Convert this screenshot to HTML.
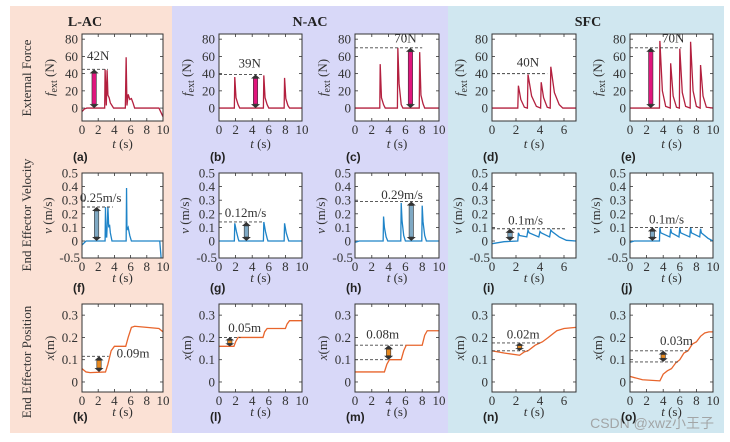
<!DOCTYPE html>
<html><head><meta charset="utf-8">
<style>
html,body{margin:0;padding:0;background:#fff;}
svg{display:block;font-family:"Liberation Serif",serif;}
.tick{font-size:13px;fill:#333;}
.lab{font-size:13px;fill:#333;}
.pl{font-family:"Liberation Sans",sans-serif;font-weight:bold;font-size:12px;fill:#222;}
</style></head>
<body>
<svg id="fig" width="730" height="442" viewBox="0 0 730 442">
  <rect x="10" y="6" width="162" height="427" fill="#fbe1d5"/>
  <rect x="172" y="6" width="276" height="427" fill="#d8d8f8"/>
  <rect x="448" y="6" width="276" height="427" fill="#d0e7f0"/>
  <text x="85" y="26" text-anchor="middle" font-weight="bold" font-size="14" fill="#222">L-AC</text>
  <text x="310" y="26" text-anchor="middle" font-weight="bold" font-size="14" fill="#222">N-AC</text>
  <text x="588" y="26" text-anchor="middle" font-weight="bold" font-size="14" fill="#222">SFC</text>
  <text transform="translate(31,78) rotate(-90)" text-anchor="middle" class="lab" font-size="14">External Force</text>
  <text transform="translate(31,215) rotate(-90)" text-anchor="middle" class="lab" font-size="14">End Effector Velocity</text>
  <text transform="translate(31,362) rotate(-90)" text-anchor="middle" class="lab" font-size="14">End Effector Position</text>
  <text x="714" y="428" text-anchor="end" font-family="Liberation Sans, WenQuanYi Zen Hei, sans-serif" font-size="14" fill="#9a9a9a" opacity="0.85">CSDN @xwz小王子</text>
</svg>
<script>
// ---- data ----
const aT=[0,0.3,0.6,2.7,2.8,2.85,3.0,3.1,3.2,3.35,3.5,3.7,3.9,5.35,5.45,5.55,5.7,5.9,6.1,6.3,6.5,9.5,10];
const aF=[-4,-1,0,0,0,45,3,44,15,12,6,3,0,0,59,3,16,10,11,6,0,0,-10];
const bT=[0,1.85,1.9,2.05,2.3,2.5,5.35,5.4,5.55,5.8,6.0,7.85,7.9,8.05,8.3,8.5,10];
const bF=[0,0,36,12,4,0,0,38,12,4,0,0,35,11,3,0,0];
const cT=[0,2.95,3.0,3.15,3.4,3.6,5.05,5.1,5.25,5.5,5.7,7.65,7.7,7.85,8.1,8.3,10];
const cF=[0,0,51,12,4,0,0,70,28,4,0,0,65,15,5,0,0];
const dT=[0,2.15,2.2,2.4,2.7,2.95,3.0,3.3,3.7,4.05,4.1,4.3,4.6,4.85,4.9,5.2,5.6,5.9,7];
const dF=[0,0,26,10,1,0,39,14,2,0,30,12,1,0,48,18,4,0,0];
const eT=[0,3.55,3.6,3.9,4.3,4.85,4.9,5.2,5.6,5.95,6.0,6.3,6.7,7.25,7.3,7.6,8.0,8.45,8.5,8.8,9.2,10];
const eF=[0,0,78,20,2,0,52,14,1,0,69,18,2,0,77,20,2,0,50,14,1,0];
const fT=[0,0.5,0.7,2.85,2.9,2.95,3.05,3.2,3.3,3.4,3.5,3.7,5.45,5.5,5.55,5.7,5.9,6.1,9.6,10];
const fV=[-0.03,0,0,0,0.25,0.03,0.03,0.25,0.1,0.12,0.06,0,0,0.39,0.08,0.1,0.04,0,0,-0.3];
const gT=[0,1.85,1.9,2.1,2.3,2.4,5.35,5.4,5.6,5.8,5.9,7.85,7.9,8.1,8.3,8.4,10];
const gV=[0,0,0.13,0.07,0.02,0,0,0.14,0.07,0.02,0,0,0.13,0.06,0.02,0,0];
const hT=[0,0.5,3.35,3.4,3.5,3.7,3.9,5.45,5.5,5.6,5.8,6.0,7.95,8.0,8.1,8.3,8.5,10];
const hV=[-0.01,0,0,0.18,0.1,0.03,0,0,0.28,0.15,0.04,0,0,0.26,0.14,0.04,0,0];
const iT=[0,1,2.15,2.2,2.3,2.9,3.0,3.1,3.9,4.0,4.1,4.8,4.9,5.0,5.6,6.2,7];
const iV=[-0.02,-0.005,0,0.06,0.04,0.03,0.08,0.06,0.03,0.07,0.06,0.03,0.08,0.07,0.03,0.005,0];
const jT=[0,0.5,3.55,3.6,3.7,4.8,4.9,5.0,5.9,6.0,6.1,7.2,7.3,7.4,8.4,8.5,8.6,9.4,10];
const jV=[-0.01,0,0,0.1,0.06,0.03,0.09,0.06,0.03,0.1,0.06,0.03,0.1,0.06,0.03,0.09,0.06,0.02,0];
const kT=[0,0.5,1,2.9,3.2,3.6,4,5.4,5.7,6.1,6.5,9.5,10];
const kX=[0.06,0.045,0.042,0.045,0.08,0.14,0.16,0.16,0.2,0.245,0.25,0.24,0.225];
const lT=[0,1.8,2.0,2.3,5.3,5.5,5.8,8.0,8.2,8.5,10];
const lX=[0.16,0.16,0.18,0.2,0.2,0.225,0.24,0.24,0.26,0.275,0.275];
const mT=[0,3.5,3.8,4.1,5.5,5.8,6.1,8.0,8.3,8.6,10];
const mX=[0.045,0.045,0.08,0.1,0.1,0.14,0.165,0.165,0.21,0.23,0.23];
const nT=[0,1,2.3,2.7,3.0,3.6,4.2,4.7,5.4,6.0,7];
const nX=[0.14,0.13,0.12,0.135,0.14,0.165,0.18,0.2,0.23,0.24,0.245];
const oT=[0,1.5,3.6,4.0,4.5,5.0,5.5,6.0,6.5,7.0,7.5,8.0,8.5,9.0,9.5,10];
const oX=[0.025,0.01,0.005,0.035,0.05,0.06,0.085,0.1,0.13,0.14,0.17,0.18,0.205,0.22,0.225,0.225];
const xTicks10=[0,2,4,6,8,10];
const xTicks7=[0,2,4,6];
const forceTicks=[0,20,40,60,80];
const velTicks=[0,0.1,0.2,0.3,0.4,0.5];
const velTickLabels=["0","0.1","0.2","0.3","0.4","0.5"];
const posTicks=[0,0.1,0.2,0.3];
const posTickLabels=["0","0.1","0.2","0.3"];
// annotations: [level(s), dash end t, label, label t, label y, arrow t, arrow from, arrow to]
const annA=[[45],3.2,"42N",2.0,56,1.5,0,45];
const annB=[[39],5.4,"39N",3.7,47,4.4,0,39];
const annC=[[70],8.0,"70N",6.0,76,6.6,0,70];
const annD=[[40],4.6,"40N",3.0,48,null,0,0];
const annE=[[70],6.2,"70N",5.2,76,2.5,0,70];
const annF=[[0.25],3.8,"0.25m/s",2.3,0.285,1.8,0,0.25];
const annG=[[0.14],5.4,"0.12m/s",3.2,0.175,3.3,0,0.14];
const annH=[[0.29],8.2,"0.29m/s",5.6,0.31,6.7,0,0.29];
const annI=[[0.09],6.1,"0.1m/s",2.8,0.12,1.5,0,0.09];
const annJ=[[0.1],9.0,"0.1m/s",4.4,0.13,2.7,0,0.1];
const annK=[[0.115],3.3,"0.09m",6.3,0.11,2.1,0.045,0.115];
const annL=[[0.2],2.6,"0.05m",3.1,0.225,1.3,0.16,0.2];
const annM=[[0.1,0.165],[4.1,6.0],"0.08m",3.3,0.195,4.0,0.1,0.165];
const annN=[[0.14,0.175],[3.0,4.1],"0.02m",2.6,0.195,2.3,0.14,0.175];
const annO=[[0.09,0.14],[6.0,7.0],"0.03m",5.6,0.165,4.0,0.09,0.14];

const NS="http://www.w3.org/2000/svg";
const svg=document.getElementById('fig');
function mk(tag,attrs,parent){const e=document.createElementNS(NS,tag);for(const k in attrs)e.setAttribute(k,attrs[k]);(parent||svg).appendChild(e);return e;}

const cols=[[82,81],[219,83],[355,84],[492,84],[630,83]];
const rows={force:[34,121,-15,86],vel:[173,258,-0.125,0.5],pos:[304,392,-0.045,0.35]};
const colors={force:"#b3203f",vel:"#1f84c8",pos:"#e8652c"};
const arrowFill={force:"#e0157d",vel:"#7fa9c4",pos:"#e88a20"};

function panel(id,ci,row,xmax,T,V,ann,letter){
  const [L,W]=cols[ci];const [top,bot,ymin,ymax]=rows[row];
  const xs=t=>L+t/xmax*W;
  const ys=v=>bot-(v-ymin)/(ymax-ymin)*(bot-top);
  const g=mk('g',{});
  
  
  const bg=mk('rect',{x:L,y:top,width:W,height:bot-top,fill:'#fff'},g);
  
  
  const cp=mk('clipPath',{id:'clip'+id},g);
  mk('rect',{x:L,y:top,width:W,height:bot-top},cp);
  const xt=xmax===10?xTicks10:xTicks7;
  xt.forEach(t=>{
    mk('line',{x1:xs(t),x2:xs(t),y1:bot,y2:bot-3,stroke:'#333','stroke-width':0.8},g);
    mk('line',{x1:xs(t),x2:xs(t),y1:top,y2:top+3,stroke:'#333','stroke-width':0.8},g);
    const tl=mk('text',{x:xs(t),y:bot+13,'text-anchor':'middle',class:'tick'},g);
    tl.textContent=t;
    
    
  });
  let yt,yl;
  if(row==='force'){yt=forceTicks;yl=forceTicks.map(String);}
  else if(row==='vel'){yt=velTicks;yl=velTickLabels;}
  else {yt=posTicks;yl=posTickLabels;}
  yt.forEach((v,i)=>{
    mk('line',{x1:L,x2:L+3,y1:ys(v),y2:ys(v),stroke:'#333','stroke-width':0.8},g);
    mk('line',{x1:L+W,x2:L+W-3,y1:ys(v),y2:ys(v),stroke:'#333','stroke-width':0.8},g);
    const tl=mk('text',{x:L-4,y:ys(v)+4.5,'text-anchor':'end',class:'tick'},g);
    tl.textContent=yl[i];
    
    
  });
  if(row==='vel'){
    const tl=mk('text',{x:L-2,y:bot+4,'text-anchor':'end',class:'tick'},g);
    tl.textContent="-0.5";
    
    
  }
  const d=T.map((t,i)=>(i?'L':'M')+xs(t).toFixed(2)+','+ys(V[i]).toFixed(2)).join('');
  const p=mk('path',{d:d,fill:'none',stroke:colors[row],'stroke-width':1.3,'clip-path':'url(#clip'+id+')'},g);
  
  
  const levels=ann[0];const ends=Array.isArray(ann[1])?ann[1]:[ann[1]];
  levels.forEach((lv,i)=>{
    const dl=mk('line',{x1:L,x2:xs(ends[i]),y1:ys(lv),y2:ys(lv),stroke:'#444','stroke-width':0.9,'stroke-dasharray':'3,2'},g);
    
    
  });
  const at=mk('text',{x:xs(ann[3]),y:ys(ann[4]),'text-anchor':'middle',class:'lab',
    'font-size':row==='force'?13:12},g);
  at.textContent=ann[2];
  
  
  if(ann[5]!==null){
    const ax=xs(ann[5]),y1=ys(ann[6]),y2=ys(ann[7]);
    const ag=mk('g',{},g);
    
    
    const h=Math.min(4,(y1-y2)/3);
    mk('rect',{x:ax-2.2,y:y2+h,width:4.4,height:Math.max(0,y1-y2-2*h),fill:arrowFill[row],stroke:'#333','stroke-width':0.6},ag);
    mk('polygon',{points:`${ax-4.5},${y2+h} ${ax+4.5},${y2+h} ${ax},${y2}`,fill:'#333'},ag);
    mk('polygon',{points:`${ax-4.5},${y1-h} ${ax+4.5},${y1-h} ${ax},${y1}`,fill:'#333'},ag);
  }
  const fr=mk('rect',{x:L,y:top,width:W,height:bot-top,fill:'none',stroke:'#333','stroke-width':1},g);
  
  
  const xl=mk('text',{x:L+W/2,y:bot+(row==='force'?27:24),'text-anchor':'middle',class:'lab','font-size':14},g);
  xl.innerHTML='<tspan font-style="italic">t</tspan> (s)';
  
  
  const yx=L-(row==='force'?28:(row==='vel'?30:28));
  const ylab=mk('text',{transform:`translate(${yx},${(top+bot)/2}) rotate(-90)`,'text-anchor':'middle',class:'lab','font-size':14},g);
  if(row==='force')ylab.innerHTML='<tspan font-style="italic">f</tspan><tspan font-size="10" dy="3">ext</tspan><tspan dy="-3"> (N)</tspan>';
  else if(row==='vel')ylab.innerHTML='<tspan font-style="italic">v</tspan> (m/s)';
  else ylab.innerHTML='<tspan font-style="italic">x</tspan>(m)';
  
  
  const pl=mk('text',{x:L-9,y:row==='force'?161:(row==='vel'?292:421),class:'pl'},g);
  pl.textContent=letter;
  
  
}
panel('a',0,'force',10,aT,aF,annA,'(a)');
panel('b',1,'force',10,bT,bF,annB,'(b)');
panel('c',2,'force',10,cT,cF,annC,'(c)');
panel('d',3,'force',7,dT,dF,annD,'(d)');
panel('e',4,'force',10,eT,eF,annE,'(e)');
panel('f',0,'vel',10,fT,fV,annF,'(f)');
panel('g',1,'vel',10,gT,gV,annG,'(g)');
panel('h',2,'vel',10,hT,hV,annH,'(h)');
panel('i',3,'vel',7,iT,iV,annI,'(i)');
panel('j',4,'vel',10,jT,jV,annJ,'(j)');
panel('k',0,'pos',10,kT,kX,annK,'(k)');
panel('l',1,'pos',10,lT,lX,annL,'(l)');
panel('m',2,'pos',10,mT,mX,annM,'(m)');
panel('n',3,'pos',7,nT,nX,annN,'(n)');
panel('o',4,'pos',10,oT,oX,annO,'(o)');
</script>
</body></html>
